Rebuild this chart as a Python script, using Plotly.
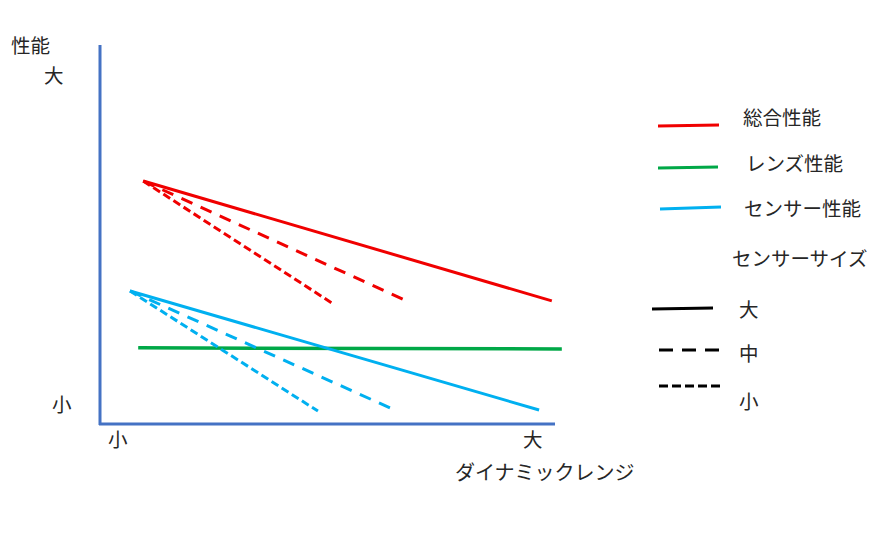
import plotly.graph_objects as go

W, H = 881, 533

# ---- data (conceptual units: 0 = 小, 10 = 大) ----
total_x = {"大": [0.95, 9.93], "中": [0.95, 6.70], "小": [0.95, 5.10]}
total_y = {"大": [6.41, 3.25], "中": [6.41, 3.27], "小": [6.41, 3.19]}
lens_x = [0.84, 10.15]
lens_y = [2.01, 1.98]
sensor_x = {"大": [0.66, 9.65], "中": [0.66, 6.42], "小": [0.66, 4.79]}
sensor_y = {"大": [3.51, 0.37], "中": [3.51, 0.40], "小": [3.51, 0.34]}

series_names = ["総合性能", "レンズ性能", "センサー性能"]
size_names = ["大", "中", "小"]
x_tick_labels = ["小", "大"]
y_tick_labels = ["小", "大"]
x_title = "ダイナミックレンジ"
y_title = "性能"
size_title = "センサーサイズ"

RED = "#F00000"
GREEN = "#00A847"
BLUE = "#00B0F0"
AXIS = "#4472C4"
FONT = "Noto Sans CJK JP"
dashes = {"大": "solid", "中": "12px,9px", "小": "8px,4px"}

def px(x):
    return x / W

def py(y):
    return 1 - y / H

fig = go.Figure()
for s in size_names:
    fig.add_trace(go.Scatter(x=total_x[s], y=total_y[s], mode="lines",
                             line=dict(color=RED, width=3, dash=dashes[s]),
                             showlegend=False, hoverinfo="skip"))
fig.add_trace(go.Scatter(x=lens_x, y=lens_y, mode="lines",
                         line=dict(color=GREEN, width=3.5),
                         showlegend=False, hoverinfo="skip"))
for s in size_names:
    fig.add_trace(go.Scatter(x=sensor_x[s], y=sensor_y[s], mode="lines",
                             line=dict(color=BLUE, width=3, dash=dashes[s]),
                             showlegend=False, hoverinfo="skip"))

shapes = []
# axes lines
shapes.append(dict(type="line", xref="paper", yref="paper",
                   x0=px(100), x1=px(100), y0=py(425), y1=py(45),
                   line=dict(color=AXIS, width=3)))
shapes.append(dict(type="line", xref="paper", yref="paper",
                   x0=px(99), x1=px(555), y0=py(424), y1=py(424),
                   line=dict(color=AXIS, width=3)))

# legend samples
leg_colors = [RED, GREEN, BLUE]
leg_pos = [(658, 719, 126, 125), (658, 718, 168, 167), (660, 721, 209, 207)]
for c, (x0, x1, y0, y1) in zip(leg_colors, leg_pos):
    shapes.append(dict(type="line", xref="paper", yref="paper",
                       x0=px(x0), x1=px(x1), y0=py(y0), y1=py(y1),
                       line=dict(color=c, width=3)))
size_leg = [(652, 713, 309, 308, "solid"), (659, 719, 350, 350, "14px,9px"),
            (659, 721, 386, 386, "9px,4px")]
for (x0, x1, y0, y1, d) in size_leg:
    shapes.append(dict(type="line", xref="paper", yref="paper",
                       x0=px(x0), x1=px(x1), y0=py(y0), y1=py(y1),
                       line=dict(color="black", width=3, dash=d)))

annotations = []
def txt(t, x, y, size=19.5):
    annotations.append(dict(text=t, x=px(x), y=py(y), xref="paper", yref="paper",
                            showarrow=False, xanchor="left", yanchor="middle",
                            font=dict(family=FONT, size=size, color="#262626")))

txt(y_title, 9, 44)
txt(y_tick_labels[1], 42, 75)
txt(y_tick_labels[0], 50, 403)
txt(x_tick_labels[0], 106, 438)
txt(x_tick_labels[1], 521, 438)
txt(x_title, 453, 471, 20)
txt(series_names[0], 741, 117)
txt(series_names[1], 744, 163)
txt(series_names[2], 742, 207)
txt(size_title, 730, 257)
txt(size_names[0], 737, 308)
txt(size_names[1], 737, 352)
txt(size_names[2], 737, 400)

x_left, x_right = 100, 580
unit_x = (555 - 100) / 10
fig.update_layout(
    width=W, height=H,
    margin=dict(l=0, r=0, t=0, b=0),
    paper_bgcolor="white", plot_bgcolor="white",
    xaxis=dict(domain=[px(x_left), px(x_right)],
               range=[0, (x_right - x_left) / unit_x], visible=False),
    yaxis=dict(domain=[py(424), py(45)], range=[0, 10], visible=False),
    shapes=shapes, annotations=annotations,
    showlegend=False,
)
fig.write_html("out.html")
